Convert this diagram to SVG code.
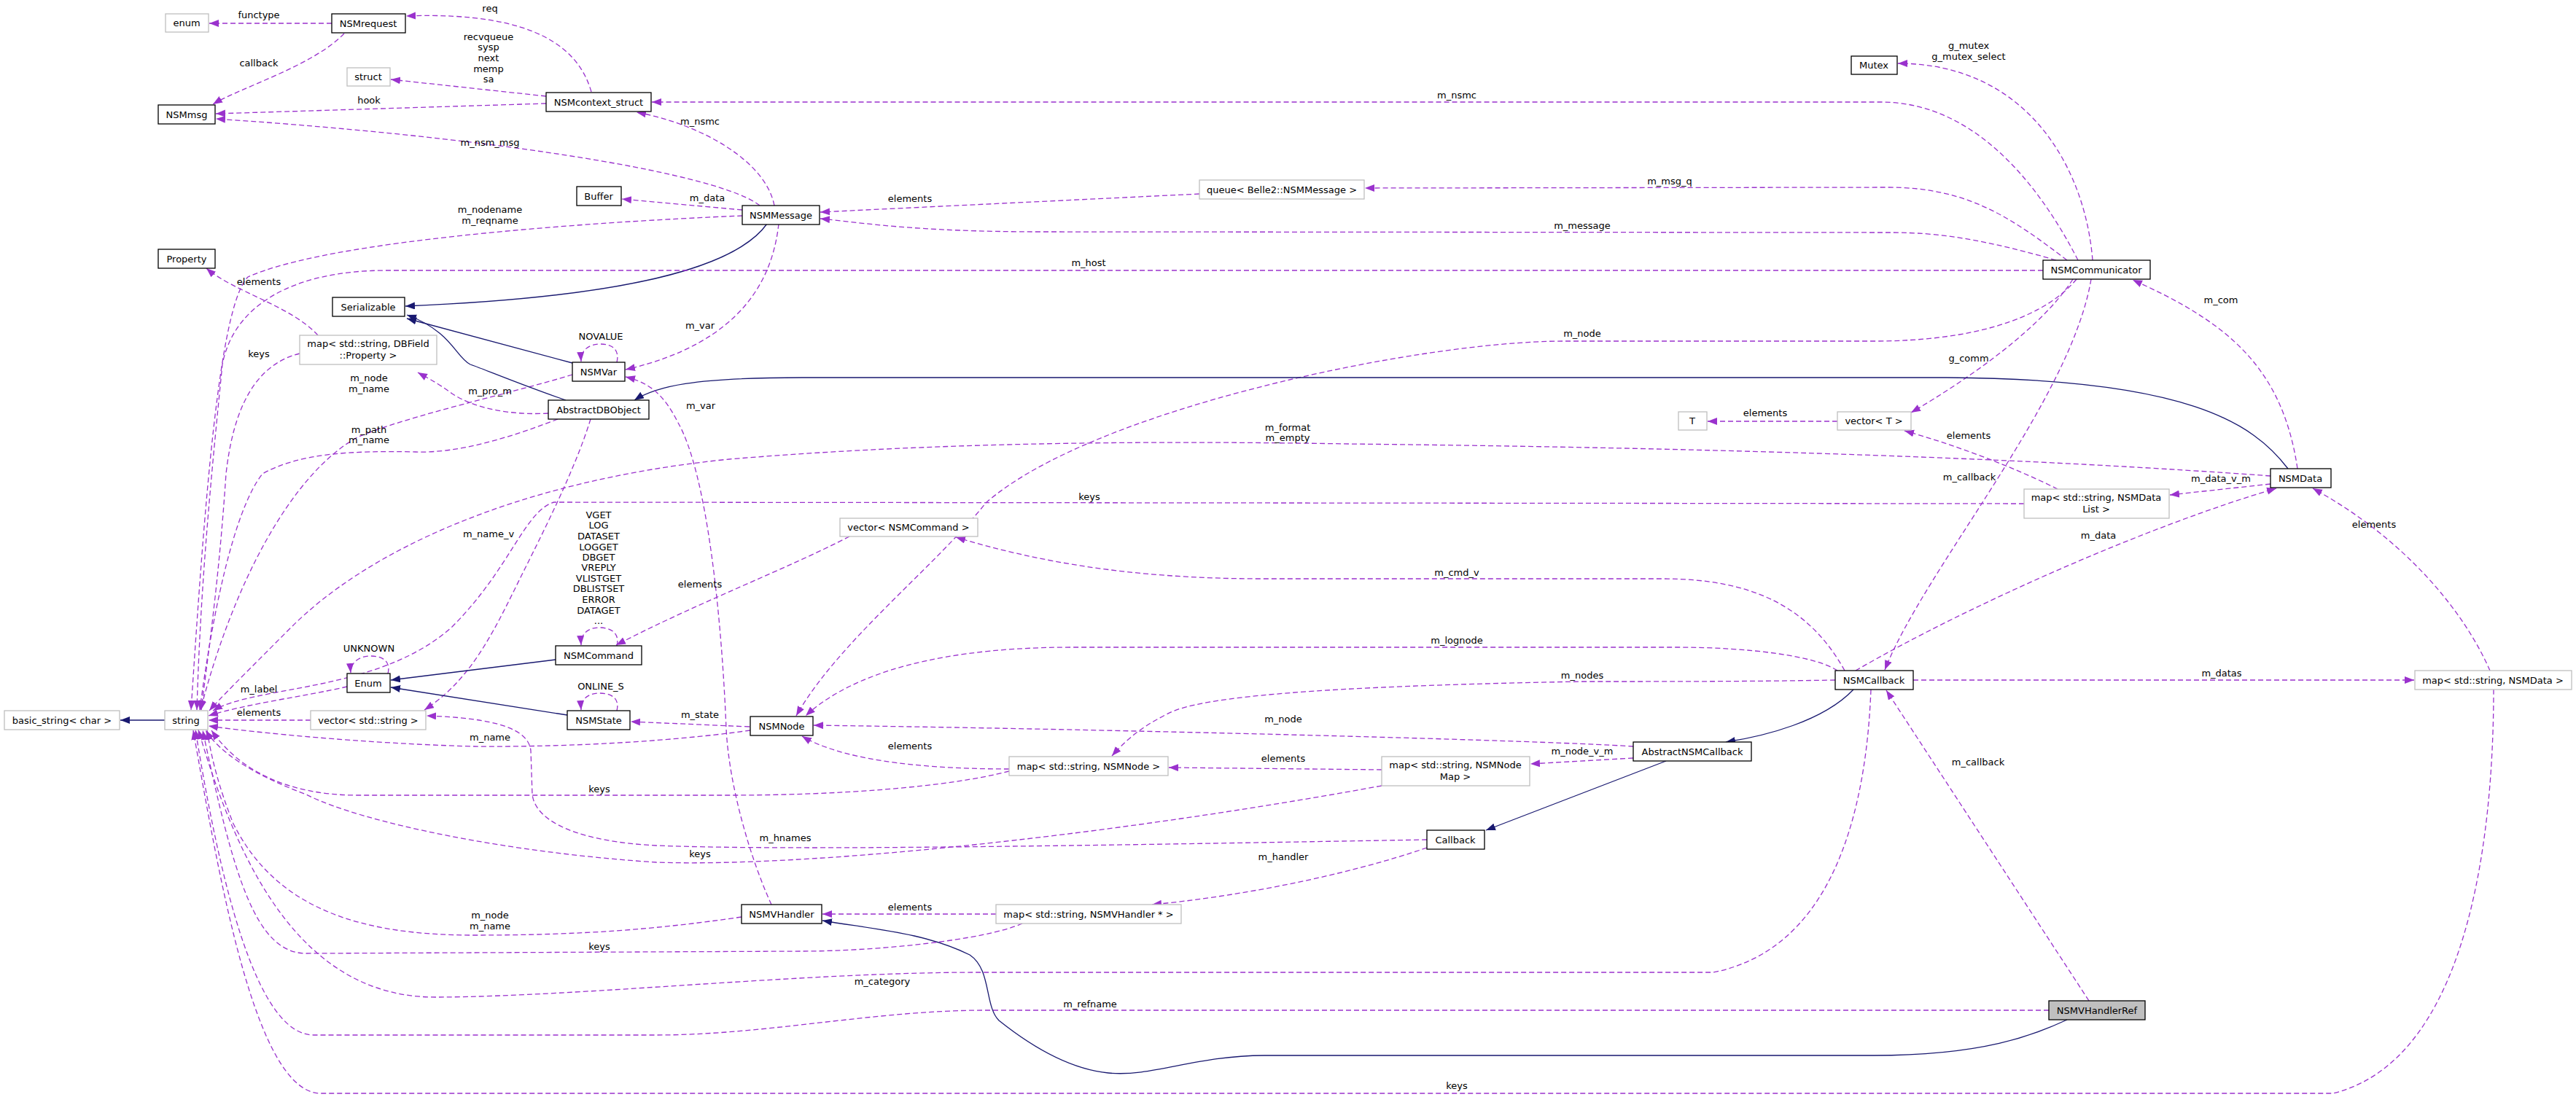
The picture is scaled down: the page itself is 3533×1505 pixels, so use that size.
<svg xmlns="http://www.w3.org/2000/svg" width="3533" height="1505" viewBox="0 0 3533 1505">
<style>
text{font-family:"DejaVu Sans","Liberation Sans",sans-serif;font-size:13px;text-anchor:middle;fill:#000}
.n rect{fill:#fff;stroke:#000;stroke-width:1.3}
.g rect{fill:#fff;stroke:#bfbfbf;stroke-width:1.3}
.d{fill:none;stroke:#9a32cd;stroke-width:1.3;stroke-dasharray:7,4;marker-end:url(#ap)}
.s{fill:none;stroke:#191970;stroke-width:1.3;marker-end:url(#ab)}
</style>
<defs>
<marker id="ap" markerUnits="userSpaceOnUse" markerWidth="14" markerHeight="12" refX="13" refY="5" orient="auto"><path d="M0,0 L13,5 L0,10 z" fill="#9a32cd"/></marker>
<marker id="ab" markerUnits="userSpaceOnUse" markerWidth="14" markerHeight="12" refX="13" refY="5" orient="auto"><path d="M0,0 L13,5 L0,10 z" fill="#191970"/></marker>
</defs>
<rect width="3533" height="1505" fill="#fff"/>
<g id="connectors">
<path class="d" d="M455,32 L287,32"/><text x="355" y="25">functype</text>
<path class="d" d="M472,46 C430,90 330,120 292,143"/><text x="355" y="91">callback</text>
<path class="d" d="M811,126 C795,70 740,15 557,22"/><text x="672" y="16">req</text>
<path class="d" d="M749,132 L536,109"/><text x="670" y="55">recvqueue</text><text x="670" y="69">sysp</text><text x="670" y="84">next</text><text x="670" y="99">memp</text><text x="670" y="113">sa</text>
<path class="d" d="M749,142 L296,156"/><text x="506" y="142">hook</text>
<path class="d" d="M1042,282 C990,240 700,190 296,163"/><text x="672" y="200">m_nsm_msg</text>
<path class="d" d="M1062,282 C1050,220 960,170 873,154"/><text x="960" y="171">m_nsmc</text>
<path class="d" d="M1018,288 L853,273"/><text x="970" y="276">m_data</text>
<path class="d" d="M1018,296 C800,305 450,330 340,380 C300,420 280,700 262,974"/><text x="672" y="292">m_nodename</text><text x="672" y="307">m_reqname</text>
<path class="s" d="M1052,307 C1000,380 800,410 556,420"/>
<path class="d" d="M1068,307 C1060,380 1020,470 858,507"/><text x="960" y="451">m_var</text>
<path class="d" d="M1645,266 L1125,291"/><text x="1248" y="277">elements</text>
<path class="d" d="M2820,357 C2700,322 2640,319 2590,319 L1429,318 C1250,318 1180,305 1125,300"/><text x="2170" y="314">m_message</text>
<path class="d" d="M2835,357 C2760,300 2700,257 2590,257 L1872,258"/><text x="2290" y="253">m_msg_q</text>
<path class="d" d="M2850,357 C2790,240 2700,140 2580,140 L894,140"/><text x="1998" y="135">m_nsmc</text>
<path class="d" d="M2870,357 C2860,230 2780,87 2603,87"/><text x="2700" y="67">g_mutex</text><text x="2700" y="82">g_mutex_select</text>
<path class="d" d="M2802,371 L530,371 C400,371 320,420 305,500 C290,650 275,800 270,974"/><text x="1493" y="365">m_host</text>
<path class="d" d="M2848,383 C2800,440 2700,468 2570,468 L2144,468 C1950,468 1500,560 1352,690 C1280,780 1150,880 1092,982"/><text x="2170" y="462">m_node</text>
<path class="d" d="M2843,383 C2800,450 2700,520 2621,566"/><text x="2700" y="496">g_comm</text>
<path class="d" d="M2520,578 L2342,578"/><text x="2421" y="571">elements</text>
<path class="d" d="M2868,383 C2840,550 2640,780 2585,919"/><text x="2701" y="659">m_callback</text>
<path class="d" d="M3151,643 C3130,500 3050,440 2925,384"/><text x="3046" y="416">m_com</text>
<path class="s" d="M3138,643 C3090,580 3000,520 2670,518 L1100,518 C950,518 900,530 870,549"/>
<path class="d" d="M3114,653 C2800,630 2400,615 1850,609 C1600,605 1300,605 1000,630 C700,660 500,760 400,860 C330,930 300,960 287,975"/><text x="1766" y="591">m_format</text><text x="1766" y="605">m_empty</text>
<path class="d" d="M2776,691 L760,689 C720,700 700,780 620,860 C520,950 350,940 292,975"/><text x="1494" y="686">keys</text>
<path class="d" d="M2822,671 C2760,640 2680,610 2612,591"/><text x="2700" y="602">elements</text>
<path class="d" d="M3114,664 L2976,679"/><text x="3046" y="661">m_data_v_m</text>
<path class="d" d="M2545,920 C2700,830 2950,720 3122,670"/><text x="2878" y="739">m_data</text>
<path class="d" d="M3415,920 C3380,840 3300,740 3172,670"/><text x="3256" y="724">elements</text>
<path class="d" d="M2624,933 L3311,933"/><text x="3047" y="928">m_datas</text>
<path class="d" d="M2530,920 C2480,830 2400,794 2280,794 L1730,794 C1550,794 1420,770 1311,737"/><text x="1998" y="790">m_cmd_v</text>
<path class="d" d="M2520,920 C2490,900 2400,888 2300,888 L1470,888 C1250,888 1150,940 1105,982"/><text x="1998" y="883">m_lognode</text>
<path class="d" d="M2517,933 C2400,935 2300,935 2170,935 C1900,940 1650,950 1600,980 C1560,1000 1540,1020 1525,1037"/><text x="2170" y="931">m_nodes</text>
<path class="d" d="M2566,946 C2560,1100 2520,1300 2350,1334 L1340,1334 C1100,1334 800,1367 600,1368 C420,1370 330,1200 272,1001"/><text x="1210" y="1351">m_category</text>
<path class="d" d="M2865,1373 L2587,947"/><text x="2713" y="1050">m_callback</text>
<path class="d" d="M2810,1386 L1350,1386 C1200,1386 1050,1420 900,1420 L430,1420 C350,1420 300,1200 268,1001"/><text x="1495" y="1382">m_refname</text>
<path class="s" d="M2835,1399 C2790,1420 2720,1448 2570,1448 L1734,1448 C1640,1448 1580,1478 1520,1472 C1470,1467 1420,1440 1370,1400 C1350,1380 1360,1330 1330,1310 C1270,1280 1200,1275 1128,1263"/>
<path class="d" d="M3420,946 C3420,1100 3400,1450 3200,1500 L440,1500 C350,1500 300,1200 265,1002"/><text x="1998" y="1494">keys</text>
<path class="s" d="M2542,946 C2500,990 2420,1010 2367,1018"/>
<path class="s" d="M2285,1044 L2038,1139"/>
<path class="d" d="M2240,1024 C2100,1015 1500,1000 1116,995"/><text x="1760" y="991">m_node</text>
<path class="d" d="M2240,1040 L2099,1048"/><text x="2170" y="1035">m_node_v_m</text>
<path class="d" d="M1895,1056 L1603,1053"/><text x="1760" y="1045">elements</text>
<path class="d" d="M1895,1078 C1500,1150 1100,1190 900,1183 C700,1170 500,1130 420,1090 C340,1060 300,1030 282,1002"/><text x="960" y="1176">keys</text>
<path class="d" d="M1384,1058 C1300,1080 1150,1091 1000,1091 L490,1091 C400,1091 330,1060 290,1002"/><text x="822" y="1087">keys</text>
<path class="d" d="M1384,1055 C1250,1055 1150,1040 1100,1010"/><text x="1248" y="1028">elements</text>
<path class="d" d="M1028,997 L865,990"/><text x="960" y="985">m_state</text>
<path class="d" d="M1029,1002 C900,1020 750,1025 650,1024 C500,1020 350,1005 286,996"/><text x="672" y="1016">m_name</text>
<path class="d" d="M1957,1152 C1600,1158 1100,1168 900,1160 C800,1155 735,1130 730,1090 L728,1030 C725,1000 680,985 585,982"/><text x="1077" y="1154">m_hnames</text>
<path class="d" d="M1957,1163 C1850,1200 1700,1230 1580,1241"/><text x="1760" y="1180">m_handler</text>
<path class="d" d="M1366,1254 L1128,1254"/><text x="1248" y="1249">elements</text>
<path class="d" d="M1402,1267 C1350,1290 1200,1305 1100,1305 L420,1308 C350,1308 320,1200 278,1002"/><text x="822" y="1303">keys</text>
<path class="d" d="M1017,1258 C900,1275 800,1283 650,1283 C500,1283 380,1250 320,1130 C300,1080 290,1040 284,1002"/><text x="672" y="1260">m_node</text><text x="672" y="1275">m_name</text>
<path class="d" d="M1058,1241 C1030,1180 1000,1080 996,1000 C990,850 970,650 930,580 C910,540 890,525 858,517"/><text x="961" y="561">m_var</text>
<path class="d" d="M785,514 C700,540 560,570 490,600 C400,650 320,800 275,974"/><text x="506" y="523">m_node</text><text x="506" y="538">m_name</text>
<path class="d" d="M846,497 C850,480 840,472 824,472 C808,472 796,480 797,496"/><text x="824" y="466">NOVALUE</text>
<path class="s" d="M785,498 L558,437"/>
<path class="s" d="M776,549 C720,530 660,505 645,500 C625,490 620,455 558,432"/>
<path class="d" d="M752,567 C700,570 650,560 620,540 C600,525 580,515 573,511"/><text x="672" y="541">m_pro_m</text>
<path class="d" d="M765,575 C700,600 630,622 570,620 C480,618 410,622 360,650 C320,700 290,850 274,974"/><text x="506" y="594">m_path</text><text x="506" y="608">m_name</text>
<path class="d" d="M810,575 C790,640 750,720 720,780 C680,860 650,930 582,974"/><text x="670" y="737">m_name_v</text>
<path class="d" d="M436,460 C400,420 320,400 283,368"/><text x="355" y="391">elements</text>
<path class="d" d="M411,485 C350,500 320,560 310,650 C300,800 285,900 276,974"/><text x="355" y="490">keys</text>
<path class="d" d="M1165,736 C1080,780 950,830 845,885"/><text x="960" y="806">elements</text>
<path class="d" d="M846,886 C850,870 840,861 822,861 C806,861 796,870 797,885"/>
<text x="821" y="711">VGET</text><text x="821" y="725">LOG</text><text x="821" y="740">DATASET</text><text x="821" y="755">LOGGET</text><text x="821" y="769">DBGET</text><text x="821" y="783">VREPLY</text><text x="821" y="798">VLISTGET</text><text x="821" y="812">DBLISTSET</text><text x="821" y="827">ERROR</text><text x="821" y="842">DATAGET</text><text x="821" y="856">...</text>
<path class="s" d="M762,905 L536,933"/>
<path class="s" d="M778,981 L536,943"/>
<path class="d" d="M532,924 C536,908 526,900 508,900 C492,900 480,910 481,923"/><text x="506" y="894">UNKNOWN</text>
<path class="d" d="M846,975 C850,959 840,951 822,951 C806,951 796,960 797,974"/><text x="824" y="946">ONLINE_S</text>
<path class="d" d="M476,942 C420,955 340,965 286,982"/><text x="355" y="950">m_label</text>
<path class="d" d="M426,988 L286,988"/><text x="355" y="982">elements</text>
<path class="s" d="M226,988 L165,988"/>
</g>
<g id="enum" class="g"><rect x="227" y="19" width="59" height="25"/><text x="256" y="36">enum</text></g>
<g id="NSMrequest" class="n"><rect x="455" y="19" width="101" height="26"/><text x="505" y="37">NSMrequest</text></g>
<g id="struct" class="g"><rect x="476" y="93" width="59" height="25"/><text x="505" y="110">struct</text></g>
<g id="NSMmsg" class="n"><rect x="217" y="144" width="78" height="26"/><text x="256" y="162">NSMmsg</text></g>
<g id="NSMcontext_struct" class="n"><rect x="749" y="127" width="144" height="26"/><text x="821" y="145">NSMcontext_struct</text></g>
<g id="Buffer" class="n"><rect x="791" y="256" width="61" height="26"/><text x="821" y="274">Buffer</text></g>
<g id="NSMMessage" class="n"><rect x="1018" y="282" width="106" height="26"/><text x="1071" y="300">NSMMessage</text></g>
<g id="Property" class="n"><rect x="217" y="342" width="78" height="26"/><text x="256" y="360">Property</text></g>
<g id="Serializable" class="n"><rect x="456" y="408" width="99" height="26"/><text x="505" y="426">Serializable</text></g>
<g id="mapDBField" class="g"><rect x="411" y="460" width="188" height="40"/><text x="505" y="476">map&lt; std::string, DBField</text><text x="505" y="492">::Property &gt;</text></g>
<g id="NSMVar" class="n"><rect x="785" y="497" width="72" height="26"/><text x="821" y="515">NSMVar</text></g>
<g id="AbstractDBObject" class="n"><rect x="752" y="549" width="138" height="26"/><text x="821" y="567">AbstractDBObject</text></g>
<g id="NSMCommand" class="n"><rect x="762" y="886" width="118" height="26"/><text x="821" y="904">NSMCommand</text></g>
<g id="Enum" class="n"><rect x="476" y="924" width="59" height="26"/><text x="505" y="942">Enum</text></g>
<g id="NSMState" class="n"><rect x="778" y="975" width="86" height="26"/><text x="821" y="993">NSMState</text></g>
<g id="string" class="g"><rect x="226" y="975" width="59" height="26"/><text x="255" y="993">string</text></g>
<g id="basic_string" class="g"><rect x="6" y="975" width="158" height="26"/><text x="85" y="993">basic_string&lt; char &gt;</text></g>
<g id="vector_string" class="g"><rect x="426" y="975" width="158" height="26"/><text x="505" y="993">vector&lt; std::string &gt;</text></g>
<g id="NSMNode" class="n"><rect x="1029" y="983" width="86" height="26"/><text x="1072" y="1001">NSMNode</text></g>
<g id="map_NSMNode" class="g"><rect x="1384" y="1038" width="218" height="26"/><text x="1493" y="1056">map&lt; std::string, NSMNode &gt;</text></g>
<g id="map_NSMNodeMap" class="g"><rect x="1895" y="1038" width="203" height="40"/><text x="1996" y="1054">map&lt; std::string, NSMNode</text><text x="1996" y="1070">Map &gt;</text></g>
<g id="Callback" class="n"><rect x="1957" y="1139" width="79" height="26"/><text x="1996" y="1157">Callback</text></g>
<g id="NSMVHandler" class="n"><rect x="1017" y="1241" width="110" height="26"/><text x="1072" y="1259">NSMVHandler</text></g>
<g id="map_NSMVHandler" class="g"><rect x="1366" y="1241" width="254" height="26"/><text x="1493" y="1259">map&lt; std::string, NSMVHandler * &gt;</text></g>
<g id="NSMCallback" class="n"><rect x="2517" y="920" width="107" height="26"/><text x="2570" y="938">NSMCallback</text></g>
<g id="AbstractNSMCallback" class="n"><rect x="2240" y="1018" width="162" height="26"/><text x="2321" y="1036">AbstractNSMCallback</text></g>
<g id="map_NSMData" class="g"><rect x="3312" y="920" width="215" height="26"/><text x="3419" y="938">map&lt; std::string, NSMData &gt;</text></g>
<g id="NSMVHandlerRef"><rect x="2810" y="1373" width="132" height="26" fill="#bfbfbf" stroke="#000" stroke-width="1.3"/><text x="2876" y="1391">NSMVHandlerRef</text></g>
<g id="Mutex" class="n"><rect x="2539" y="77" width="63" height="25"/><text x="2570" y="94">Mutex</text></g>
<g id="NSMCommunicator" class="n"><rect x="2802" y="357" width="147" height="26"/><text x="2875" y="375">NSMCommunicator</text></g>
<g id="T" class="g"><rect x="2302" y="565" width="39" height="25"/><text x="2321" y="582">T</text></g>
<g id="vector_T" class="g"><rect x="2520" y="565" width="101" height="25"/><text x="2570" y="582">vector&lt; T &gt;</text></g>
<g id="NSMData" class="n"><rect x="3114" y="643" width="83" height="26"/><text x="3155" y="661">NSMData</text></g>
<g id="map_NSMDataList" class="g"><rect x="2776" y="671" width="199" height="40"/><text x="2875" y="687">map&lt; std::string, NSMData</text><text x="2875" y="703">List &gt;</text></g>
<g id="queue" class="g"><rect x="1645" y="247" width="226" height="26"/><text x="1758" y="265">queue&lt; Belle2::NSMMessage &gt;</text></g>
<g id="vector_NSMCommand" class="g"><rect x="1152" y="711" width="189" height="25"/><text x="1246" y="728">vector&lt; NSMCommand &gt;</text></g>
</svg>
